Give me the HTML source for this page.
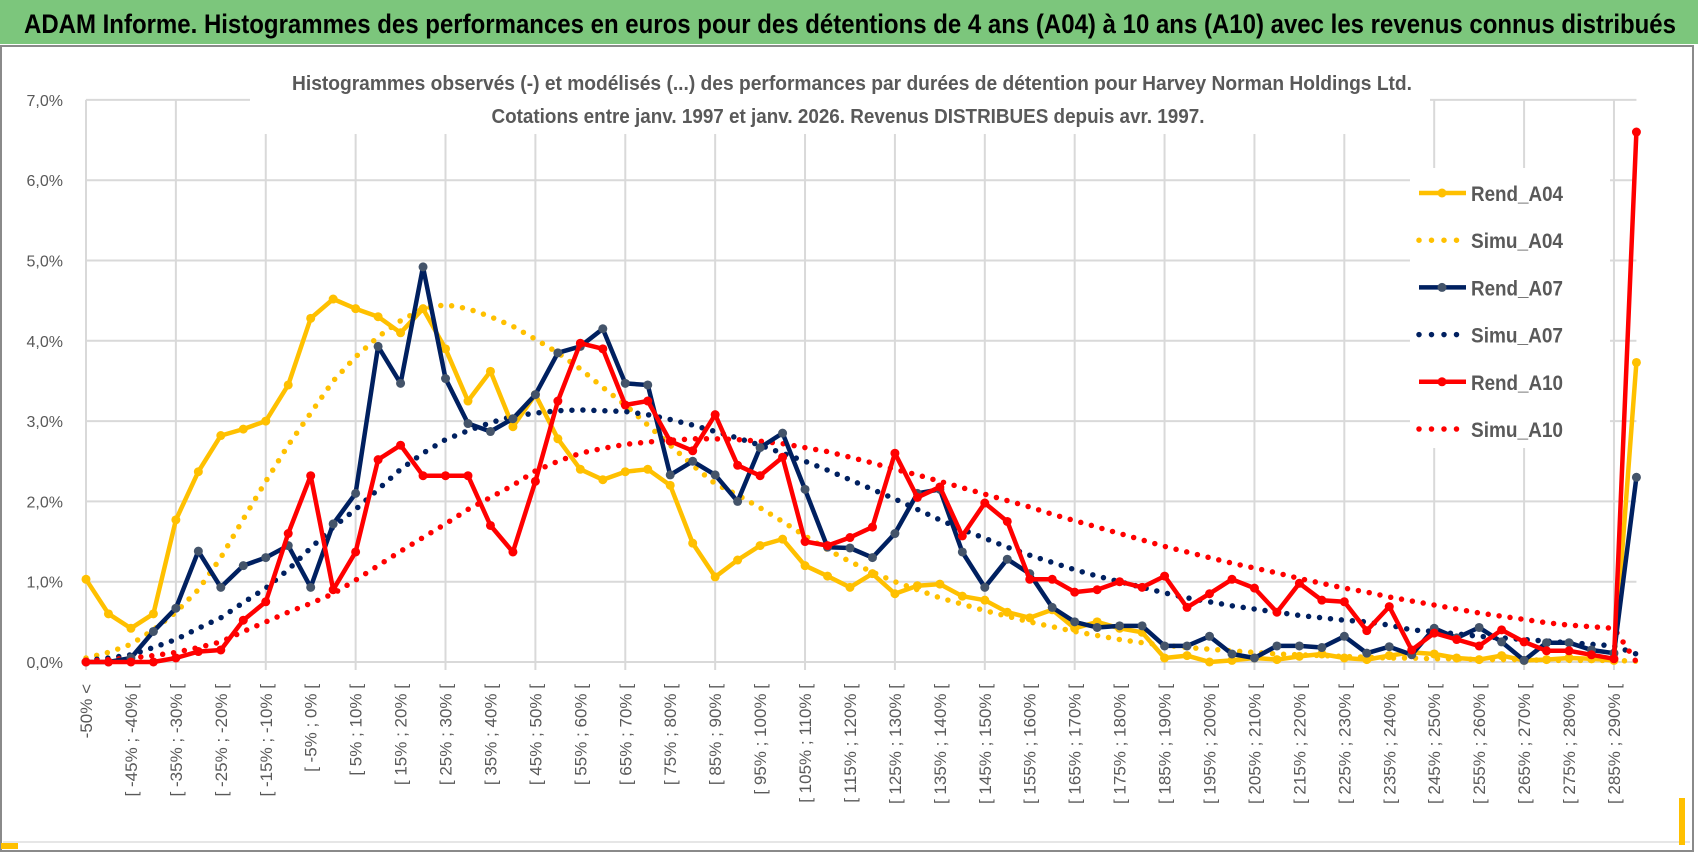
<!DOCTYPE html>
<html><head><meta charset="utf-8"><style>
html,body{margin:0;padding:0;background:#fff;}
svg{display:block;font-family:"Liberation Sans",sans-serif;}
</style></head><body>
<svg id="chart" width="1698" height="854" viewBox="0 0 1698 854" xmlns="http://www.w3.org/2000/svg">
<rect x="0" y="0" width="1698" height="854" fill="#fff"/>
<rect x="0" y="0" width="1698" height="44" fill="#7cc67c"/>
<text x="24" y="33" font-size="27" font-weight="bold" fill="#000" textLength="1652" lengthAdjust="spacingAndGlyphs">ADAM Informe. Histogrammes des performances en euros pour des détentions de 4 ans (A04) à 10 ans (A10) avec les revenus connus distribués</text>
<rect x="1" y="46" width="1692" height="805" fill="none" stroke="#8a8a8a" stroke-width="2"/>
<line x1="3" y1="842" x2="1690" y2="842" stroke="#e6e6e6" stroke-width="2"/>
<rect x="1" y="843" width="17" height="6" fill="#ffc000"/>
<rect x="1679" y="798" width="6" height="47" fill="#ffc000"/>
<g id="grid"></g>
<rect x="250" y="60" width="1180" height="74" fill="#fff"/>
<text x="852" y="90" text-anchor="middle" font-size="20" font-weight="bold" fill="#595959" textLength="1120" lengthAdjust="spacingAndGlyphs">Histogrammes observés (-) et modélisés (...) des performances par durées de détention pour Harvey Norman Holdings Ltd.</text>
<text x="848" y="123" text-anchor="middle" font-size="20" font-weight="bold" fill="#595959" textLength="713" lengthAdjust="spacingAndGlyphs">Cotations entre janv. 1997 et janv. 2026. Revenus DISTRIBUES depuis avr. 1997.</text>
<g id="axes"></g>
<g id="series"></g>
<g id="legend"></g>
</svg>
<script>
const rendA04=[1.03,0.6,0.42,0.6,1.77,2.37,2.82,2.9,3.0,3.45,4.28,4.52,4.4,4.3,4.1,4.4,3.9,3.25,3.62,2.93,3.33,2.78,2.4,2.27,2.37,2.4,2.2,1.48,1.06,1.27,1.45,1.53,1.2,1.07,0.93,1.1,0.85,0.95,0.97,0.82,0.77,0.62,0.55,0.65,0.42,0.5,0.42,0.37,0.05,0.08,0.0,0.02,0.05,0.03,0.07,0.1,0.05,0.03,0.08,0.12,0.1,0.05,0.03,0.08,0.02,0.03,0.05,0.04,0.02,3.73];
const simuA04=[0.05,0.12,0.22,0.4,0.62,0.9,1.3,1.78,2.25,2.7,3.1,3.5,3.8,4.05,4.25,4.4,4.45,4.4,4.3,4.18,4.02,3.85,3.65,3.42,3.2,2.95,2.7,2.45,2.22,2.08,1.92,1.75,1.57,1.4,1.25,1.12,1.0,0.9,0.8,0.72,0.64,0.57,0.5,0.44,0.38,0.33,0.28,0.24,0.21,0.18,0.16,0.14,0.12,0.1,0.09,0.08,0.07,0.06,0.05,0.05,0.04,0.04,0.03,0.03,0.03,0.02,0.02,0.02,0.02,0.01];
const rendA07=[0,0,0.05,0.38,0.67,1.38,0.93,1.2,1.3,1.45,0.93,1.72,2.1,3.93,3.47,4.92,3.53,2.97,2.87,3.03,3.33,3.85,3.93,4.15,3.47,3.45,2.33,2.5,2.33,2.0,2.67,2.85,2.15,1.43,1.42,1.3,1.6,2.1,2.15,1.37,0.93,1.28,1.1,0.68,0.5,0.43,0.45,0.45,0.2,0.2,0.32,0.1,0.05,0.2,0.2,0.18,0.32,0.11,0.19,0.09,0.42,0.3,0.43,0.25,0.02,0.24,0.24,0.15,0.11,2.3];
const simuA07=[0.02,0.05,0.09,0.18,0.28,0.42,0.55,0.74,0.92,1.15,1.42,1.68,1.9,2.15,2.4,2.6,2.77,2.88,2.98,3.06,3.1,3.13,3.14,3.13,3.12,3.08,3.02,2.95,2.87,2.79,2.7,2.6,2.5,2.39,2.27,2.15,2.03,1.9,1.77,1.65,1.54,1.43,1.33,1.24,1.15,1.07,1.0,0.93,0.86,0.8,0.75,0.7,0.66,0.62,0.58,0.55,0.52,0.5,0.46,0.4,0.38,0.35,0.32,0.3,0.28,0.26,0.24,0.22,0.2,0.1];
const rendA10=[0,0,0,0,0.05,0.13,0.15,0.52,0.75,1.6,2.32,0.9,1.37,2.52,2.7,2.32,2.32,2.32,1.7,1.37,2.25,3.25,3.97,3.9,3.2,3.25,2.75,2.63,3.08,2.45,2.32,2.55,1.5,1.45,1.55,1.68,2.6,2.05,2.18,1.57,1.98,1.75,1.03,1.03,0.87,0.9,1.0,0.93,1.07,0.68,0.85,1.03,0.92,0.62,0.98,0.77,0.75,0.39,0.69,0.15,0.36,0.28,0.2,0.4,0.25,0.14,0.14,0.09,0.04,6.6];
const simuA10=[0.01,0.03,0.05,0.08,0.12,0.18,0.25,0.38,0.5,0.62,0.73,0.85,1.02,1.2,1.38,1.55,1.72,1.9,2.05,2.2,2.38,2.5,2.6,2.66,2.71,2.74,2.76,2.78,2.78,2.77,2.75,2.72,2.67,2.62,2.55,2.48,2.4,2.33,2.25,2.17,2.09,2.01,1.93,1.84,1.76,1.68,1.6,1.52,1.44,1.37,1.3,1.23,1.17,1.11,1.04,0.98,0.92,0.87,0.81,0.76,0.71,0.66,0.61,0.57,0.53,0.49,0.46,0.44,0.42,0.0];
const yTicks=[0,1,2,3,4,5,6,7];
const yTickLabels=["0,0%","1,0%","2,0%","3,0%","4,0%","5,0%","6,0%","7,0%"];
const categories=["-50% <"];
for(let k=1;k<69;k++){const a=-50+5*(k-1);categories.push("[ "+a+"% ; "+(a+5)+"% [");}
categories.push("> 290%");

const NS="http://www.w3.org/2000/svg";
const X0=86,DX=22.47,Y0=662,DY=80.3;
function xs(i){return X0+i*DX;}
function ys(v){return Y0-v*DY;}
function mk(tag,attrs,parent){const e=document.createElementNS(NS,tag);for(const k in attrs)e.setAttribute(k,attrs[k]);parent.appendChild(e);return e;}
const grid=document.getElementById('grid'),axes=document.getElementById('axes'),ser=document.getElementById('series'),leg=document.getElementById('legend');
const xEnd=xs(categories.length-1);
yTicks.forEach((t,k)=>{
  const l=mk('line',{x1:X0,x2:xEnd,y1:ys(t),y2:ys(t),stroke:'#d9d9d9','stroke-width':2},grid);
  
  
  const tx=mk('text',{x:63,y:ys(t)+6,'text-anchor':'end','font-size':16,fill:'#595959'},axes);
  tx.textContent=yTickLabels[k];
  
  
});
for(let i=0;i<categories.length;i+=4){
  const l=mk('line',{x1:xs(i),x2:xs(i),y1:ys(7),y2:Y0+8,stroke:'#d9d9d9','stroke-width':2},grid);
  
  
}
categories.forEach((c,i)=>{
  if(i%2)return;
  const x=xs(i)+6,y=684;
  const tx=mk('text',{x:x,y:y,transform:'rotate(-90 '+x+' '+y+')','text-anchor':'end','font-size':17,fill:'#595959'},axes);
  tx.textContent=c;
  
  
});
function pts(arr){return arr.map((v,i)=>xs(i).toFixed(1)+','+ys(v).toFixed(1)).join(' ');}
function dotted(arr,color,name){
  const p=mk('polyline',{points:pts(arr),fill:'none',stroke:color,'stroke-width':5.5,'stroke-linecap':'round','stroke-dasharray':'0 11'},ser);
  
  
}
function solid(arr,color,mcolor,name){
  const g=mk('g',{},ser);
  
  
  mk('polyline',{points:pts(arr),fill:'none',stroke:color,'stroke-width':4.5,'stroke-linejoin':'round'},g);
  arr.forEach((v,i)=>{
    const c=mk('circle',{cx:xs(i),cy:ys(v),r:4.5,fill:mcolor},g);
    
    
  });
}
dotted(simuA04,'#ffc000','simu-a04-line');
dotted(simuA07,'#002060','simu-a07-line');
dotted(simuA10,'#ff0000','simu-a10-line');
solid(rendA04,'#ffc000','#ffc000','rend-a04-line');
solid(rendA07,'#002060','#44546a','rend-a07-line');
solid(rendA10,'#ff0000','#ff0000','rend-a10-line');
// legend
const lb=mk('rect',{x:1410,y:168,width:200,height:280,fill:'#fff'},leg);


const items=[["Rend_A04","#ffc000","#ffc000",false],["Simu_A04","#ffc000","",true],["Rend_A07","#002060","#44546a",false],["Simu_A07","#002060","",true],["Rend_A10","#ff0000","#ff0000",false],["Simu_A10","#ff0000","",true]];
items.forEach((it,k)=>{
  const y=193+k*47.2;
  const g=mk('g',{},leg);
  
  
  if(it[3]){mk('line',{x1:1419,x2:1466,y1:y,y2:y,stroke:it[1],'stroke-width':5.5,'stroke-linecap':'round','stroke-dasharray':'0 12.5'},g);}
  else{mk('line',{x1:1419,x2:1466,y1:y,y2:y,stroke:it[1],'stroke-width':4.5},g);mk('circle',{cx:1442,cy:y,r:4.5,fill:it[2]},g);}
  const t=mk('text',{x:1471,y:y+8,'font-size':21,'font-weight':'bold',fill:'#595959',textLength:92,lengthAdjust:'spacingAndGlyphs'},g);
  t.textContent=it[0];
});
</script>
</body></html>
